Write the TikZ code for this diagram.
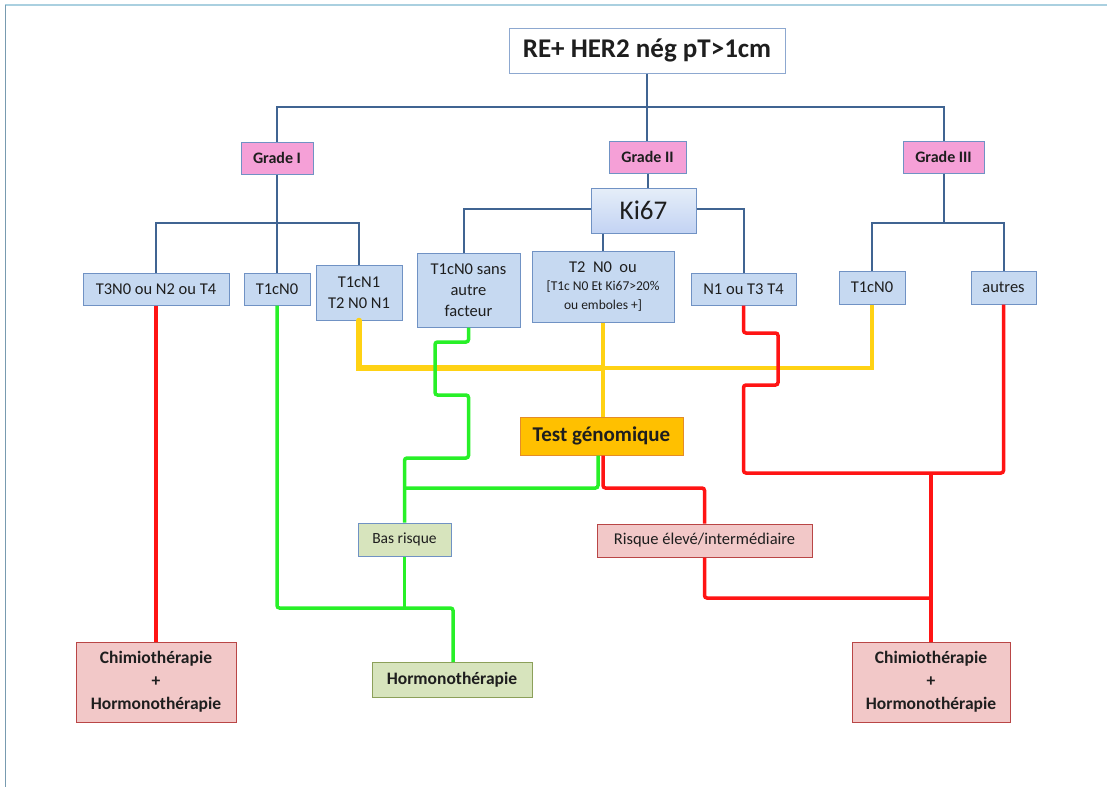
\documentclass[tikz,border=0pt]{standalone}
\usepackage{fontspec}
\setmainfont{Carlito}
\usetikzlibrary{calc}
\definecolor{bl}{RGB}{64,100,146}
\definecolor{boxfill}{RGB}{198,217,241}
\definecolor{boxbd}{RGB}{112,146,196}
\definecolor{gradefill}{RGB}{245,160,215}
\definecolor{testfill}{RGB}{255,192,0}
\definecolor{testbd}{RGB}{228,140,40}
\definecolor{grfill}{RGB}{215,228,189}
\definecolor{grbd}{RGB}{140,160,90}
\definecolor{rdfill}{RGB}{242,200,200}
\definecolor{rdbd}{RGB}{185,70,70}
\definecolor{lred}{RGB}{255,20,20}
\definecolor{lgreen}{RGB}{40,240,40}
\definecolor{lyellow}{RGB}{255,210,20}
\definecolor{frametop}{RGB}{170,208,224}
\definecolor{frameleft}{RGB}{120,155,176}
\definecolor{txt}{RGB}{30,30,30}
\begin{document}
\begin{tikzpicture}[x=1pt,y=-1pt,
  box/.style={draw=boxbd, line width=1pt, fill=boxfill, inner sep=0pt, align=center, text=txt,
    font=\fontsize{16.5}{21}\selectfont},
  gradebox/.style={box, fill=gradefill, font=\fontsize{16}{18}\selectfont\bfseries},
  redbox/.style={box, draw=rdbd, fill=rdfill, font=\fontsize{17.5}{23}\selectfont\bfseries},
  blueline/.style={draw=bl, line width=2pt},
  redline/.style={draw=lred, line width=3.5pt, rounded corners=2.5pt},
  greenline/.style={draw=lgreen, line width=3.5pt, rounded corners=2.5pt},
  yelthick/.style={draw=lyellow, line width=5.5pt},
  yelthin/.style={draw=lyellow, line width=3.5pt}
]
\useasboundingbox (0,0) rectangle (1107,787);
\draw[frametop, line width=1.5pt] (5,5) -- (1107,5);
\draw[frameleft, line width=0.8pt] (5,5) -- (5,787);

% nodes
\node[box, fill=white, draw=boxbd!80, minimum width=276pt, minimum height=45pt,
  font=\fontsize{27}{32}\selectfont\bfseries] (top) at (647,50.5) {RE+ HER2 nég pT>1cm};
\node[gradebox, minimum width=72pt, minimum height=32pt] (g1) at (277,158) {Grade I};
\node[gradebox, minimum width=77pt, minimum height=32pt] (g2) at (647.5,157) {Grade II};
\node[gradebox, minimum width=81pt, minimum height=32pt] (g3) at (943.5,157) {Grade III};

\node[box, minimum width=146pt, minimum height=32pt] (t3) at (156,289) {T3N0 ou N2 ou T4};
\node[box, minimum width=66pt, minimum height=32pt] (t1a) at (277,289) {T1cN0};
\node[box, minimum width=86pt, minimum height=55pt] (t1n1) at (359,292.5) {T1cN1\\T2 N0 N1};

\node[box, top color=boxfill!45, bottom color=boxfill!95!blue!90, minimum width=105pt, minimum height=45pt,
  font=\fontsize{27}{32}\selectfont] (ki) at (643.5,210.5) {Ki67};
\node[box, minimum width=103pt, minimum height=74pt] (sans) at (468.5,290) {T1cN0 sans\\autre\\facteur};
\node[box, minimum width=142pt, minimum height=71pt, font=\fontsize{13.5}{18.5}\selectfont] (t2) at (603,286.5)
  {{\fontsize{16.5}{19}\selectfont T2~~N0~~ou}\\[-0.5pt][T1c N0 Et Ki67>20\%\\ou emboles +]};
\node[box, minimum width=105pt, minimum height=32pt] (n1) at (743.5,289) {N1 ou T3 T4};
\node[box, minimum width=66pt, minimum height=33pt] (t1b) at (872,287.5) {T1cN0};
\node[box, minimum width=65pt, minimum height=33pt] (aut) at (1003.5,287.5) {autres};

\node[box, draw=testbd, fill=testfill, minimum width=163pt, minimum height=38pt,
  font=\fontsize{21}{25}\selectfont\bfseries] (test) at (601.5,436) {Test génomique};
\node[box, fill=grfill, minimum width=93pt, minimum height=33pt, font=\fontsize{15.5}{19}\selectfont] (bas) at (404.5,539.5) {Bas risque};
\node[box, draw=rdbd, fill=rdfill, minimum width=215pt, minimum height=33pt] (ris) at (704.5,540.5) {Risque élevé/intermédiaire};
\node[box, draw=grbd, fill=grfill, minimum width=160pt, minimum height=35pt,
  font=\fontsize{17.5}{21}\selectfont\bfseries] (horm) at (452,679.5) {Hormonothérapie};
\node[redbox, minimum width=160pt, minimum height=80pt] (ch1) at (156,682) {Chimiothérapie\\+\\Hormonothérapie};
\node[redbox, minimum width=158pt, minimum height=80pt] (ch2) at (931,682) {Chimiothérapie\\+\\Hormonothérapie};

% junction coordinates
\coordinate (bus) at (647,107);
\coordinate (b1) at (277,223);
\coordinate (b3) at (943.5,223);
\coordinate (yj) at (603,368);

% blue tree
\draw[blueline] (top.south) -- (top.south |- g2.north);
\draw[blueline] (g1.north) |- (bus) -| (g3.north);
\draw[blueline] (g1.south) -- (t1a.north);
\draw[blueline] (t3.north) |- (b1) -| (t1n1.north);
\draw[blueline] ([xshift=0.5pt]g2.south) -- ([xshift=0.5pt]g2.south |- ki.north);
\draw[blueline] ([yshift=1.5pt]ki.west) -| ([xshift=-5pt]sans.north);
\draw[blueline] (ki.south -| t2.north) -- (t2.north);
\draw[blueline] ([yshift=1.5pt]ki.east) -| (n1.north);
\draw[blueline] (g3.south) -- (b3);
\draw[blueline] (t1b.north) |- (b3) -| (aut.north);

% yellow
\draw[yelthick, line cap=round] (t1n1.south) |- (yj);
\draw[yelthin] (yj) -| (t1b.south);
\draw[yelthin] (t2.south) -- (t2.south |- test.north);

% green
\draw[greenline] (sans.south) -- (468.5,342) -- (435,342) -- (435,395) -- (468.5,395)
  -- (468.5,458) -- (404.5,458) -- (bas.north);
\draw[greenline] ([xshift=-3.5pt]test.south) -- (598,488) -- (404.5,488);
\draw[greenline] (bas.south) -- (404.5,608);
\draw[greenline] (t1a.south) -- (277,608) -- (453,608) -- (453,662);

% red
\draw[redline] (t3.south) -- (ch1.north);
\draw[redline] ([xshift=1.5pt]test.south) -- (603,488) -- (704.5,488) -- (ris.north);
\draw[redline] (ris.south) -- (704.5,598) -- (931,598);
\draw[redline] (n1.south) -- (743.5,333) -- (778,333) -- (778,385) -- (743.5,385)
  -- (743.5,473) -- (1003.5,473) -- (aut.south);
\draw[redline] (931,473) -- (ch2.north);
\end{tikzpicture}
\end{document}
